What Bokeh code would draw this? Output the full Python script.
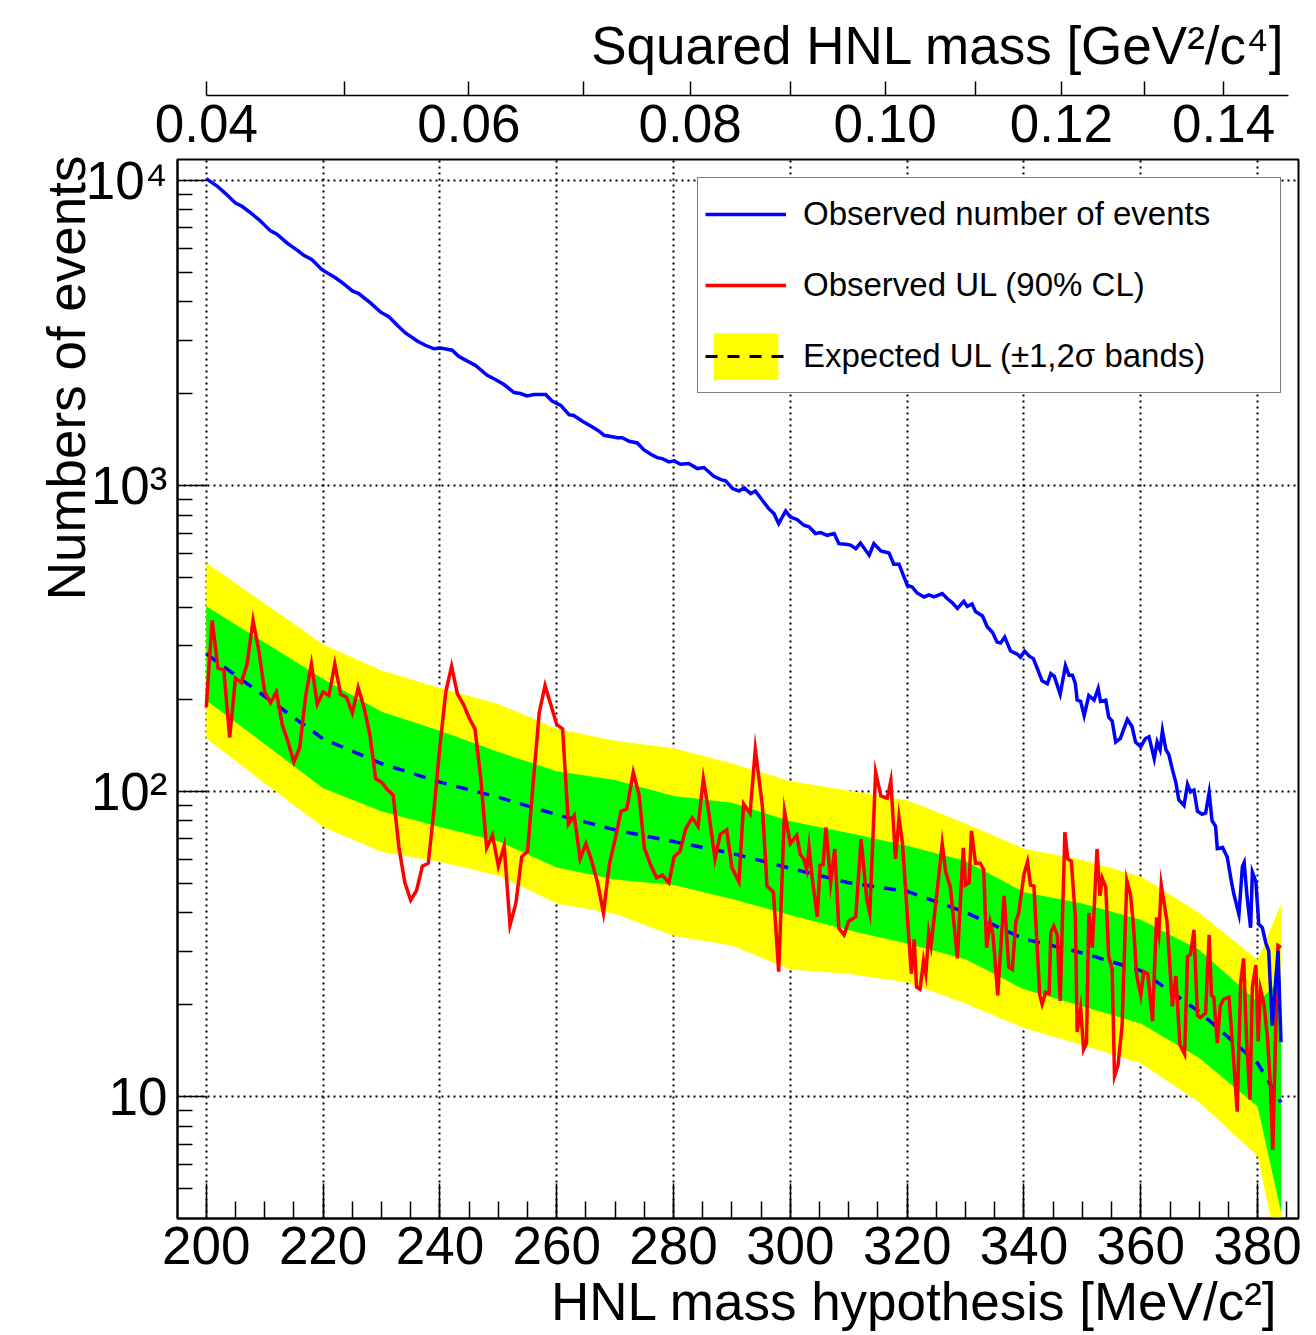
import math
from bokeh.plotting import figure
from bokeh.models import Range1d, FixedTicker, LinearAxis, Legend, LegendItem, Title
from bokeh.embed import file_html
from bokeh.resources import INLINE

FONT = "Liberation Sans"

# ---------------- data ----------------
# Observed number of events (blue line)
mass_obs = [200.0, 201.9, 203.3, 205.0, 206.1, 207.6, 209.0, 211.0, 212.1, 213.8,
            215.6, 216.7, 218.1, 219.8, 222.1, 223.5, 225.0, 226.1, 228.1, 229.8,
            231.3, 232.7, 234.1, 236.1, 237.5, 239.0, 240.1, 242.1, 243.2, 244.7,
            246.1, 248.1, 249.5, 250.9, 252.7, 253.8, 254.9, 256.1, 258.1, 259.2,
            260.7, 262.1, 262.9, 264.4, 266.1, 267.2, 268.1, 270.4, 271.2, 272.4,
            273.8, 274.9, 276.1, 277.2, 278.1, 279.2, 280.1, 281.2, 282.6, 284.1,
            285.2, 286.9, 288.1, 288.9, 290.1, 291.2, 292.1, 293.2, 294.0, 295.2,
            296.3, 297.2, 298.0, 299.2, 300.0, 301.2, 302.3, 303.2, 304.3, 305.2,
            306.3, 307.5, 308.3, 309.5, 310.3, 311.2, 312.0, 313.5, 314.3, 315.5,
            316.9, 317.7, 318.6, 320.0, 320.9, 321.7, 322.9, 323.7, 324.6, 326.0,
            326.9, 327.7, 328.6, 329.7, 330.3, 331.1, 331.7, 332.9, 333.7, 334.6,
            335.4, 336.0, 336.7, 337.7, 338.9, 339.4, 340.1, 340.9, 341.6, 342.3,
            343.1, 344.0, 344.6, 345.2, 346.2, 347.1, 347.7, 348.3, 348.8, 349.1,
            349.7, 350.3, 351.1, 352.0, 352.7, 353.1, 354.0, 354.5, 355.1, 355.7,
            356.5, 357.7, 358.5, 359.1, 360.0, 360.8, 361.4, 362.3, 362.8, 363.3,
            363.7, 364.3, 364.8, 365.4, 366.0, 366.5, 367.4, 368.0, 368.5, 369.1,
            369.7, 370.5, 371.1, 371.7, 372.2, 372.8, 373.1, 374.0, 374.8, 375.4,
            375.9, 376.8, 377.4, 377.7, 378.2, 378.8, 379.1, 379.7, 380.2, 380.8,
            381.4, 381.9, 382.5, 383.5, 384.0]
n_obs = [10130, 9560, 9050, 8430, 8225, 7820, 7440, 6830, 6660, 6240,
         5900, 5685, 5500, 5100, 4800, 4590, 4345, 4260, 3970, 3710,
         3570, 3355, 3165, 2980, 2885, 2810, 2825, 2780, 2655, 2560,
         2480, 2300, 2230, 2150, 2020, 2005, 1970, 1990, 1990, 1896,
         1834, 1711, 1700, 1627, 1559, 1513, 1464, 1438, 1438, 1399,
         1382, 1314, 1269, 1237, 1228, 1198, 1207, 1177, 1183, 1139,
         1148, 1075, 1048, 1038, 980, 962, 985, 943, 962, 897,
         842, 811, 752, 828, 791, 775, 743, 735, 698, 703,
         689, 698, 647, 644, 640, 623, 650, 593, 647, 612,
         603, 554, 554, 473, 466, 446, 433, 440, 433, 444,
         427, 415, 397, 419, 403, 411, 388, 375, 346, 332,
         308, 306, 320, 288, 281, 275, 288, 277, 272, 252,
         230, 225, 243, 238, 208, 258, 240, 240, 225, 199,
         197, 177, 206, 199, 217, 197, 199, 175, 170, 145,
         149, 172, 163, 145, 140, 149, 151, 128, 145, 137,
         158, 137, 132, 118, 107, 94, 90, 105.5, 99.6, 101,
         86.2, 84.2, 85, 99, 80.2, 76.8, 65, 65.5, 61, 52.1,
         46.4, 39.6, 56.8, 58.5, 45.1, 35.8, 54.4, 50.7, 36.8, 35.8,
         31.9, 30.1, 17.1, 30.1, 15.1]

# Observed upper limit (90% CL), red line
mass_ul = [200, 201, 202, 203, 204, 205, 206, 207, 208, 209,
           210, 211, 212, 213, 214, 215, 216, 217, 218, 219,
           220, 221, 222, 223, 224, 225, 226, 227, 228, 229,
           230, 231, 232, 233, 234, 235, 236, 237, 238, 239,
           240, 241, 242, 243, 244, 245, 246, 247, 248, 249,
           250, 251, 252, 253, 254, 255, 256, 257, 258, 259,
           260, 261, 262, 263, 264, 265, 266, 267, 268, 269,
           270, 271, 272,
           273.1, 274.1, 275.0, 276.1, 277.1, 278.1, 279.2, 280.1, 281.1, 282.1,
           283.2, 284.2, 285.1, 286.0, 287.1, 288.0, 289.1, 290.0, 291.2, 292.0,
           293.1, 294.0, 295.2, 296.0, 297.1, 298.0, 299.0, 300.0, 301.1, 301.7,
           302.3, 302.8, 303.2, 303.7, 304.6, 305.1, 305.6, 306.1, 306.9, 307.6,
           308.3, 309.2, 310.0, 311.2, 312.1, 313.1, 313.6, 314.6, 315.5, 316.6,
           317.2, 318.0, 318.6, 319.2, 320.0, 320.7, 321.2, 321.6, 322.2, 322.8,
           323.2, 323.7, 324.1, 325.2, 326.0, 326.6, 327.4, 328.6, 329.6, 330.0,
           330.6, 331.0, 331.7, 332.5, 333.1, 333.6, 334.2, 334.7, 335.5, 336.6,
           337.4, 338.0, 338.6, 339.1, 340.0, 340.6, 341.1, 341.7, 342.7, 343.1,
           343.7, 344.3, 344.6, 345.1, 345.7, 346.2, 347.0, 347.5, 348.1, 348.8,
           349.1, 349.7, 350.2, 350.7, 351.1, 351.7, 352.5, 353.0, 353.4, 354.0,
           354.5, 355.1, 355.5, 356.1, 356.8, 357.6, 358.2, 358.7, 359.3, 360.0,
           360.5, 361.2, 362.0, 362.7, 363.1, 363.5, 364.5, 365.4, 366.0, 366.7,
           367.5, 368.0, 368.5, 369.1, 369.7, 370.2, 371.1, 371.7, 372.1, 372.5,
           373.1, 373.6, 374.2, 375.1, 375.9, 376.5, 377.1, 377.6, 378.1, 378.7,
           379.1, 379.7, 380.1, 380.5, 381.1, 381.7, 382.2, 382.6, 383.1, 383.5,
           384.0]
ul_obs = [188.6, 362.6, 253, 250, 150, 234.7, 227, 261.5, 362.6, 288.4,
          211.5, 195, 211.5, 165.5, 145.2, 124.6, 139.2, 204.7, 261.5, 193,
          211.5, 206, 261.5, 208, 203.4, 180.7, 218.5, 188.6, 153.5, 110,
          107.2, 101.4, 97.2, 65.3, 50.2, 44.1, 47.4, 56.9, 58.2, 87.5,
          140.6, 211.5, 257, 208, 193, 173.8, 160.2, 110, 65.3, 71.9,
          56.9, 66.3, 36.5, 43.0, 61.1, 63.6, 108.2, 180.7, 222, 191.8,
          165.5, 160.2, 78.1, 83.4, 60.1, 67.4, 59.1, 50.2, 40.0, 57.6,
          69.7, 86.1, 87.5,
          115.5, 97.2, 65.3, 57.3, 52.2, 53.2, 50.2, 61.1, 63.6, 75.5,
          82.0, 76.8, 110, 86.1, 60.1, 72.4, 74.8, 56.3, 50.6, 91.1,
          84.7, 137.4, 89.8, 49.0, 46.8, 25.7, 86.1, 67.4, 71.9, 62.1,
          60.1, 55.4, 65.6, 52.8, 38.9, 57.3, 57.6, 76.3, 50.2, 64.8,
          35.6, 33.9, 37.6, 38.9, 69.7, 44.1, 40.0, 115.5, 96.6, 95.0,
          108.2, 60.1, 82.0, 67.4, 40.0, 25.3, 32.8, 22.9, 22.5, 27.9,
          25.3, 34.5, 31.3, 48.6, 67.4, 54.5, 48.6, 28.4, 65.3, 49.4,
          50.2, 74.3, 58.2, 58.2, 55.4, 30.8, 37.4, 33.9, 21.5, 45.5,
          26.6, 26.1, 37.4, 40.0, 53.6, 58.8, 49.4, 49.0, 21.5, 20.1,
          22.0, 21.8, 34.5, 36.2, 33.9, 20.6, 73.5, 60.1, 59.1, 38.7,
          16.3, 19.5, 14.3, 15.0, 40.0, 30.8, 64.8, 45.5, 51.9, 48.6,
          28.8, 26.1, 11.7, 12.7, 17.1, 51.1, 46.3, 37.4, 24.9, 21.5,
          25.7, 25.3, 17.7, 38.7, 34.5, 49.4, 37.4, 19.8, 24.9, 14.8,
          13.8, 28.8, 29.3, 35.2, 18.5, 18.2, 18.8, 33.9, 21.5, 21.2,
          15.0, 19.8, 20.9, 21.2, 13.2, 8.95, 23.7, 28.4, 15.5, 9.8,
          22.9, 27.0, 15.2, 22.5, 20.1, 15.5, 10.8, 6.7, 16.5, 31.3,
          30.8]

# Expected UL and the 1/2 sigma bands
mass_exp = [200, 210, 220, 230, 240, 250, 260, 270, 280, 290,
            300, 310, 320, 330, 340, 350, 360, 370, 380, 384]
exp_ul = [281.8, 204.6, 148.6, 123.3, 107.2, 95.7, 83.9, 74.8, 68.5, 62.7,
          56.0, 50.2, 47.1, 40.2, 32.9, 29.6, 25.9, 19.0, 12.9, 9.6]
band2_hi = [559.8, 412.1, 302.7, 248.9, 217.8, 193.2, 160.3, 146.6, 138.4, 123.3,
            108.1, 100.5, 93.5, 78.5, 64.9, 59.6, 52.7, 40.0, 28.1, 42.7]
band1_hi = [403.6, 306.9, 233.3, 182.4, 157.8, 134.6, 116.4, 108.9, 96.6, 91.8,
            79.8, 73.1, 66.4, 59.2, 46.8, 43.0, 38.0, 30.3, 20.5, 24.1]
band1_lo = [198.2, 142.9, 102.3, 86.1, 76.4, 68.7, 56.4, 51.5, 49.4, 44.4,
            39.4, 35.1, 31.8, 28.2, 22.5, 19.8, 17.4, 13.4, 9.3, 4.2]
band2_lo = [148.9, 106.4, 76.4, 63.5, 58.9, 53.1, 43.0, 39.8, 33.7, 31.3,
            26.1, 25.3, 23.7, 20.2, 16.8, 14.8, 12.9, 9.6, 6.4, 2.8]

# axis ticks and texts
x_major = [200, 220, 240, 260, 280, 300, 320, 340, 360, 380]
x_minor = [200, 205, 210, 215, 220, 225, 230, 235, 240, 245, 250, 255, 260, 265,
           270, 275, 280, 285, 290, 295, 300, 305, 310, 315, 320, 325, 330, 335,
           340, 345, 350, 355, 360, 365, 370, 375, 380, 385]
y_major = [10, 100, 1000, 10000]
y_minor = [5, 6, 7, 8, 9, 20, 30, 40, 50, 60, 70, 80, 90,
           200, 300, 400, 500, 600, 700, 800, 900,
           2000, 3000, 4000, 5000, 6000, 7000, 8000, 9000]
y_labels = {10: "10", 100: "10²", 1000: "10³", 10000: "10⁴"}
msq_major = [0.04, 0.06, 0.08, 0.10, 0.12, 0.14]
msq_all = [0.04, 0.05, 0.06, 0.07, 0.08, 0.09, 0.10, 0.11, 0.12, 0.13, 0.14]
x_title = "HNL mass hypothesis [MeV/c²]"
y_title = "Numbers of events"
top_title = "Squared HNL mass [GeV²/c⁴]"
legend_labels = ["Observed number of events", "Observed UL (90% CL)",
                 "Expected UL (±1,2σ bands)"]

# ---------------- figure ----------------
p = figure(width=1316, height=1335,
           x_range=Range1d(195.07, 387.0), y_range=Range1d(4.0, 11700.0),
           y_axis_type="log", output_backend="svg", toolbar_location=None,
           min_border_left=177, min_border_right=18,
           min_border_top=159, min_border_bottom=117)
p.background_fill_color = "white"
p.border_fill_color = "white"
p.outline_line_color = "black"
p.outline_line_width = 2

# legend proxy for the black dashed sample (hidden below the bands)
r_dash_leg = p.line(mass_exp, exp_ul, line_color="black", line_width=3, line_dash="12 10")
# bands and lines
r_y = p.varea(x=mass_exp, y1=band2_lo, y2=band2_hi, fill_color="#ffff00")
r_g = p.varea(x=mass_exp, y1=band1_lo, y2=band1_hi, fill_color="#00ff00")
r_exp = p.line(mass_exp, exp_ul, line_color="#0000ff", line_width=3.5, line_dash="12 10")
r_ul = p.line(mass_ul, ul_obs, line_color="#ff0000", line_width=3.5, line_join="miter")
r_obs = p.line(mass_obs, n_obs, line_color="#0000ff", line_width=3.5, line_join="miter")

# grids
for g in (p.xgrid[0], p.ygrid[0]):
    g.grid_line_color = "black"
    g.grid_line_dash = "2 4"
    g.grid_line_width = 2

# bottom axis
xax = p.xaxis[0]
xax.ticker = FixedTicker(ticks=x_major, minor_ticks=x_minor)
xax.major_tick_in = 35
xax.major_tick_out = 0
xax.minor_tick_in = 17
xax.minor_tick_out = 0
xax.major_tick_line_width = 1.5
xax.minor_tick_line_width = 1.5
xax.axis_line_width = 2
xax.major_label_standoff = 8
xax.major_label_text_font = FONT
xax.major_label_text_font_size = "53px"
xax.major_label_text_color = "black"

# left axis
yax = p.yaxis[0]
yax.ticker = FixedTicker(ticks=y_major, minor_ticks=y_minor)
yax.major_label_overrides = y_labels
yax.major_tick_in = 29
yax.major_tick_out = 0
yax.minor_tick_in = 15
yax.minor_tick_out = 0
yax.major_tick_line_width = 1.5
yax.minor_tick_line_width = 1.5
yax.axis_line_width = 2
yax.major_label_standoff = 10
yax.major_label_text_font = FONT
yax.major_label_text_font_size = "53px"
yax.major_label_text_color = "black"

# top axis (squared mass): label row, spacer, line with ticks
top_major = [1000 * math.sqrt(q) for q in msq_major]
top_all = [1000 * math.sqrt(q) for q in msq_all]
ax_lab = LinearAxis(ticker=FixedTicker(ticks=top_major, minor_ticks=[]),
                    major_label_overrides={t: f"{q:.2f}" for t, q in zip(top_major, msq_major)},
                    axis_line_color=None, major_tick_in=0, major_tick_out=0,
                    minor_tick_in=0, minor_tick_out=0, major_label_standoff=18,
                    major_label_text_font=FONT, major_label_text_font_size="53px",
                    major_label_text_color="black")
ax_gap = LinearAxis(ticker=FixedTicker(ticks=[], minor_ticks=top_all),
                    axis_line_color=None, major_tick_in=0, major_tick_out=0,
                    minor_tick_in=0, minor_tick_out=6, major_label_standoff=0,
                    minor_tick_line_color="white", minor_tick_line_width=1)
ax_line = LinearAxis(ticker=FixedTicker(ticks=[], minor_ticks=top_all),
                     bounds=(200, 385.3), axis_line_width=1.5, axis_line_color="black",
                     major_tick_in=0, major_tick_out=0,
                     minor_tick_in=0, minor_tick_out=14, minor_tick_line_width=1.5,
                     minor_tick_line_color="black", major_label_standoff=0)
p.add_layout(ax_lab, "above")
p.add_layout(ax_gap, "above")
p.add_layout(ax_line, "above")

# axis titles, aligned to the axis ends as in the reference
tstyle = dict(text_font=FONT, text_font_size="53px", text_font_style="normal",
              text_color="black", align="right")
p.add_layout(Title(text=x_title, offset=20, standoff=7, vertical_align="bottom", **tstyle), "below")
p.add_layout(Title(text=top_title, offset=13, standoff=14, vertical_align="bottom", **tstyle), "above")
p.add_layout(Title(text=y_title, offset=-4, standoff=-27, vertical_align="bottom", **tstyle), "left")

# legend
legend = Legend(items=[
    LegendItem(label=legend_labels[0], renderers=[r_obs]),
    LegendItem(label=legend_labels[1], renderers=[r_ul]),
    LegendItem(label=legend_labels[2], renderers=[r_y, r_dash_leg]),
], location=(520, 825))
legend.border_line_color = "black"
legend.border_line_width = 1.5
legend.background_fill_color = "white"
legend.background_fill_alpha = 1.0
legend.label_text_font = FONT
legend.label_text_font_size = "33px"
legend.label_text_color = "black"
legend.glyph_width = 81
legend.glyph_height = 58
legend.label_height = 58
legend.label_width = 470
legend.label_standoff = 17
legend.padding = 7
legend.spacing = 13
legend.margin = 0
p.add_layout(legend)

open("out.html", "w").write(file_html(p, INLINE))
